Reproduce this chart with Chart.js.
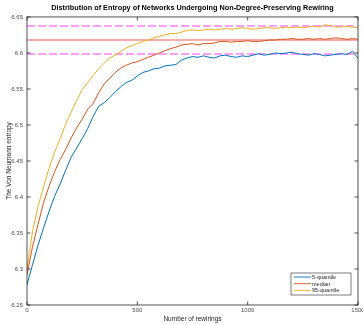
<!DOCTYPE html>
<html lang="en">
<head>
    <meta charset="UTF-8">
    <title>Entropy under rewiring</title>
    <script src="https://cdn.jsdelivr.net/npm/chart.js"></script>
    <style>
        html, body { margin: 0; padding: 0; background: #fff; }
        #wrap { width: 363px; height: 325px; }
    </style>
</head>
<body>
<div id="wrap"><canvas id="entropyChart" width="363" height="325"></canvas></div>
<script>
    // ** Data **
    let rewirings = [0, 25, 50, 75, 100, 125, 150, 175, 200, 225, 250, 275, 300, 325, 350, 375, 400, 425, 450, 475,
        500, 525, 550, 575, 600, 625, 650, 675, 700, 725, 750, 775, 800, 825, 850, 875, 900, 925, 950, 975,
        1000, 1025, 1050, 1075, 1100, 1125, 1150, 1175, 1200, 1225, 1250, 1275, 1300, 1325, 1350, 1375, 1400, 1425, 1450, 1475, 1500];

    let q5 = [6.278, 6.306, 6.333, 6.357, 6.380, 6.401, 6.418, 6.437, 6.455, 6.468, 6.481, 6.495, 6.512, 6.526, 6.531, 6.538, 6.546, 6.553, 6.559, 6.562,
        6.568, 6.573, 6.575, 6.578, 6.579, 6.582, 6.583, 6.584, 6.590, 6.593, 6.595, 6.594, 6.596, 6.594, 6.593, 6.596, 6.597, 6.595, 6.594, 6.596,
        6.595, 6.597, 6.599, 6.597, 6.598, 6.600, 6.599, 6.600, 6.601, 6.599, 6.598, 6.597, 6.599, 6.598, 6.596, 6.597, 6.598, 6.599, 6.598, 6.602, 6.593];

    let median = [6.292, 6.331, 6.362, 6.392, 6.415, 6.435, 6.452, 6.466, 6.482, 6.496, 6.508, 6.522, 6.530, 6.545, 6.557, 6.565, 6.573, 6.579, 6.583, 6.586,
        6.588, 6.591, 6.594, 6.597, 6.600, 6.603, 6.606, 6.608, 6.611, 6.612, 6.613, 6.611, 6.613, 6.613, 6.614, 6.616, 6.616, 6.615, 6.616, 6.616,
        6.617, 6.616, 6.616, 6.617, 6.618, 6.618, 6.619, 6.619, 6.620, 6.619, 6.619, 6.620, 6.619, 6.620, 6.619, 6.620, 6.621, 6.620, 6.619, 6.620, 6.619];

    let q95 = [6.300, 6.352, 6.387, 6.414, 6.440, 6.462, 6.481, 6.501, 6.518, 6.534, 6.549, 6.559, 6.569, 6.578, 6.586, 6.593, 6.597, 6.602, 6.607, 6.610,
        6.613, 6.616, 6.618, 6.621, 6.623, 6.625, 6.627, 6.627, 6.629, 6.631, 6.632, 6.631, 6.632, 6.633, 6.632, 6.633, 6.634, 6.633, 6.634, 6.635,
        6.634, 6.633, 6.634, 6.635, 6.635, 6.634, 6.635, 6.636, 6.635, 6.636, 6.635, 6.636, 6.637, 6.636, 6.639, 6.638, 6.636, 6.636, 6.637, 6.636, 6.635];

    // reference levels (horizontal lines)
    let refLow = 6.5985;
    let refMedian = 6.618;
    let refHigh = 6.6375;

    let seriesLabels = ["5-quantile", "median", "95-quantile"];
    let colors = ["#0072BD", "#D95319", "#EDB120"];

    let xTicks = [0, 500, 1000, 1500];
    let yMin = 6.25, yMax = 6.65, yStep = 0.05;

    let FONT = "'Liberation Sans', Arial, Helvetica, sans-serif";

    function toPoints(values) {
        return values.map((v, i) => ({ x: rewirings[i], y: v }));
    }
    function flatLine(level) {
        return [{ x: xTicks[0], y: level }, { x: xTicks[xTicks.length - 1], y: level }];
    }

    // box, inward ticks and legend like the original figure
    let matlabLook = {
        id: "matlabLook",
        afterDraw(chart) {
            let ctx = chart.ctx;
            let a = chart.chartArea;
            let xs = chart.scales.x, ys = chart.scales.y;
            ctx.save();
            ctx.strokeStyle = "#262626";
            ctx.lineWidth = 0.8;
            ctx.strokeRect(a.left, a.top, a.right - a.left, a.bottom - a.top);
            ctx.beginPath();
            xTicks.forEach(t => {
                let px = xs.getPixelForValue(t);
                ctx.moveTo(px, a.bottom); ctx.lineTo(px, a.bottom - 3.5);
                ctx.moveTo(px, a.top); ctx.lineTo(px, a.top + 3.5);
            });
            ys.ticks.forEach(t => {
                let py = ys.getPixelForValue(t.value);
                ctx.moveTo(a.left, py); ctx.lineTo(a.left + 3.5, py);
                ctx.moveTo(a.right, py); ctx.lineTo(a.right - 3.5, py);
            });
            ctx.stroke();

            // legend
            let bw = 60, bh = 22;
            let bx = a.right - 7 - bw, by = a.bottom - 10 - bh;
            ctx.fillStyle = "#fff";
            ctx.fillRect(bx, by, bw, bh);
            ctx.strokeStyle = "#262626";
            ctx.lineWidth = 0.6;
            ctx.strokeRect(bx, by, bw, bh);
            ctx.font = "5.5px " + FONT;
            ctx.textBaseline = "middle";
            ctx.textAlign = "left";
            seriesLabels.forEach((lab, i) => {
                let ly = by + 4 + i * 6.7;
                ctx.strokeStyle = colors[i];
                ctx.lineWidth = 0.9;
                ctx.beginPath();
                ctx.moveTo(bx + 3, ly); ctx.lineTo(bx + 20, ly);
                ctx.stroke();
                ctx.fillStyle = "#262626";
                ctx.fillText(lab, bx + 21, ly + 0.3);
            });
            ctx.restore();
        }
    };

    let ctx = document.getElementById("entropyChart").getContext("2d");
    new Chart(ctx, {
        type: "line",
        data: {
            datasets: [
                { label: seriesLabels[0], data: toPoints(q5), borderColor: colors[0], borderWidth: 1 },
                { label: seriesLabels[1], data: toPoints(median), borderColor: colors[1], borderWidth: 1 },
                { label: seriesLabels[2], data: toPoints(q95), borderColor: colors[2], borderWidth: 1 },
                { label: "high", data: flatLine(refHigh), borderColor: "rgba(255,0,255,0.5)", borderWidth: 1.4, borderDash: [8, 3] },
                { label: "med", data: flatLine(refMedian), borderColor: "rgba(230,60,60,0.55)", borderWidth: 1.4 },
                { label: "low", data: flatLine(refLow), borderColor: "rgba(255,0,255,0.5)", borderWidth: 1.4, borderDash: [8, 3] }
            ]
        },
        options: {
            responsive: false,
            animation: false,
            devicePixelRatio: 1,
            elements: { point: { radius: 0 }, line: { tension: 0, fill: false } },
            layout: { padding: { left: 0, right: 5, top: 0, bottom: 0 } },
            plugins: {
                legend: { display: false },
                tooltip: { enabled: false },
                title: {
                    display: true,
                    fullSize: false,
                    text: "Distribution of Entropy of Networks Undergoing Non-Degree-Preserving Rewiring",
                    color: "#000",
                    font: { family: FONT, size: 7.3, weight: "bold" },
                    padding: { top: 4, bottom: 4.2 }
                }
            },
            scales: {
                x: {
                    type: "linear",
                    min: 0, max: 1500,
                    afterBuildTicks: s => { s.ticks = xTicks.map(v => ({ value: v })); },
                    grid: { display: false, drawTicks: false },
                    border: { display: false },
                    ticks: { color: "#4d4d4d", padding: 2, maxRotation: 0, font: { family: FONT, size: 6 },
                        callback: v => String(v) },
                    title: { display: true, text: "Number of rewirings", color: "#262626", font: { family: FONT, size: 6.5 }, padding: { top: 0, bottom: 2 } },
                    afterFit: s => { s.height = 20; s.paddingLeft = 0; s.paddingRight = 0; }
                },
                y: {
                    min: yMin, max: yMax,
                    ticks: {
                        stepSize: yStep, color: "#4d4d4d", padding: 4,
                        font: { family: FONT, size: 6 },
                        callback: v => String(+v.toFixed(2))
                    },
                    grid: { display: false, drawTicks: false },
                    border: { display: false },
                    title: { display: true, text: "The Von Neumann entropy", color: "#262626", font: { family: FONT, size: 6.5 }, padding: { top: 5, bottom: 0 } },
                    afterFit: s => { s.width = 27; }
                }
            }
        },
        plugins: [matlabLook]
    });
</script>
</body>
</html>
